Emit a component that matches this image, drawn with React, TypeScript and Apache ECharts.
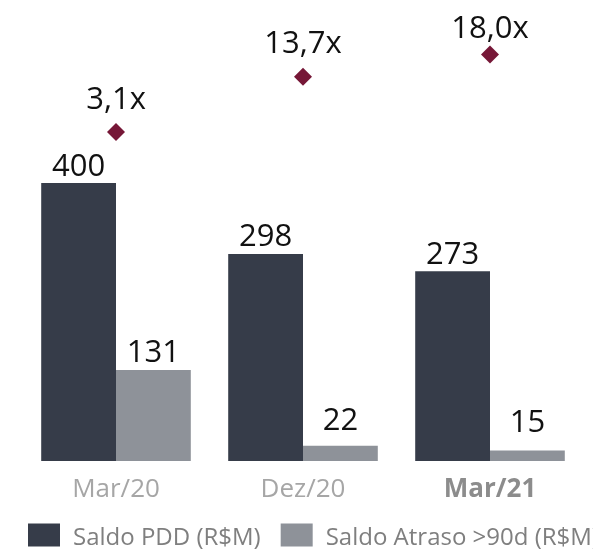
import React, { useEffect, useRef } from "react";
import * as echarts from "echarts";

const categories = ["Mar/20", "Dez/20", "Mar/21"];
const saldoPDD = [400, 298, 273];
const saldoAtraso = [131, 22, 15];
const cobertura = [3.1, 13.7, 18.0];
const legendNames = ["Saldo PDD (R$M)", "Saldo Atraso >90d (R$M)"];

export default function App() {
  const ref = useRef<HTMLDivElement>(null);
  useEffect(() => {
    if (!ref.current) return;
    const chart = echarts.init(ref.current, null, { renderer: "svg" });
    const font = "'Open Sans', 'Noto Sans', sans-serif";
    const valueLabel = { show: true, position: "top", distance: 4, fontSize: 31, color: "#111", fontFamily: font };
    chart.setOption({
      animation: false,
      textStyle: { fontFamily: font },
      grid: { left: 22.5, right: 9.5, top: 44, bottom: 91 },
      legend: {
        data: legendNames,
        left: 23,
        bottom: 0,
        width: 900,
        itemWidth: 32,
        itemHeight: 23,
        itemGap: 20,
        icon: "rect",
        textStyle: { fontSize: 24, color: "#7f7f7f", fontFamily: font, padding: [0, 0, 0, 8] },
      },
      xAxis: {
        type: "category",
        data: categories,
        axisLine: { show: false },
        axisTick: { show: false },
        axisLabel: {
          fontSize: 26,
          color: "#a6a6a6",
          margin: 13,
          formatter: (v: string, i: number) => (i === 2 ? `{b|${v}}` : v),
          rich: { b: { fontSize: 26, fontWeight: "bold", color: "#8c8c8c", fontFamily: font } },
        },
      },
      yAxis: [
        { type: "value", min: 0, max: 600, show: false, splitLine: { show: false } },
        { type: "value", min: -60, max: 20, show: false, splitLine: { show: false } },
      ],
      series: [
        {
          name: legendNames[0],
          type: "bar",
          data: saldoPDD,
          barGap: "0%",
          barCategoryGap: "20%",
          itemStyle: { color: "#363c49" },
          label: valueLabel,
        },
        {
          name: legendNames[1],
          type: "bar",
          data: saldoAtraso.map((v, i) => ({ value: v, label: { distance: i === 0 ? 4 : i === 1 ? 12 : 15 } })),
          itemStyle: { color: "#8e9299" },
          label: valueLabel,
        },
        {
          name: "Cobertura",
          type: "line",
          yAxisIndex: 1,
          data: cobertura.map((v, i) => ({ value: v, label: { distance: i === 2 ? 4 : 11 } })),
          symbol: "diamond",
          symbolSize: 18,
          lineStyle: { width: 0, opacity: 0 },
          itemStyle: { color: "#761737" },
          label: {
            show: true,
            position: "top",
            fontSize: 31,
            color: "#111",
            fontFamily: font,
            formatter: (p: any) => Number(p.value).toFixed(1).replace(".", ",") + "x",
          },
        },
      ],
    });
    return () => chart.dispose();
  }, []);
  return <div ref={ref} style={{ position: "fixed", left: 0, top: 0, width: 593, height: 552 }} />;
}
